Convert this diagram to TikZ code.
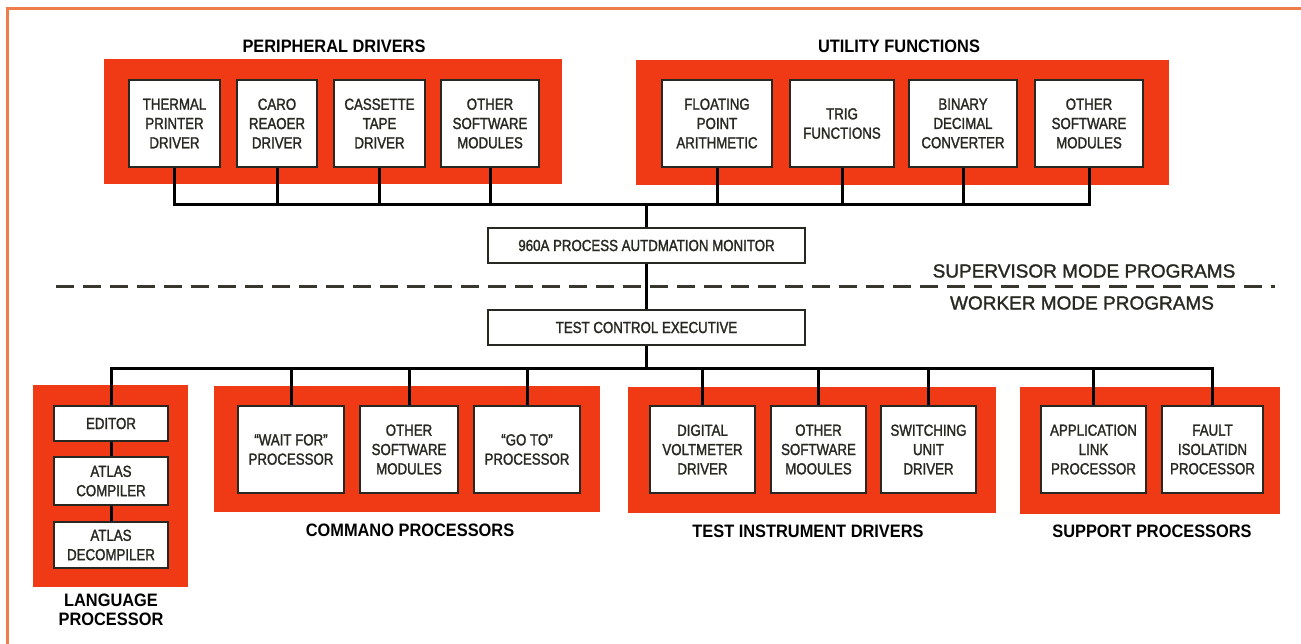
\documentclass[tikz,border=0pt]{standalone}
\usepackage{fontspec}
\setmainfont{Liberation Sans}[FakeStretch=0.83,FakeBold=1.6]
\newfontfamily\titlefont{Liberation Sans}[FakeStretch=0.91]
\newfontfamily\modefont{Liberation Sans}[FakeBold=1.4]

\definecolor{redfill}{RGB}{240,58,22}
\definecolor{frameorange}{RGB}{238,125,75}
\definecolor{ink}{RGB}{40,40,35}
\definecolor{dashink}{RGB}{55,55,45}

\tikzset{
 redbox/.style={fill=redfill, draw=none, inner sep=0pt},
 inbox/.style={draw=ink, line width=2pt, fill=white, align=center,
   font=\fontsize{16}{19.3}\selectfont, text=ink, inner sep=0pt},
 grouptitle/.style={font=\titlefont\bfseries\fontsize{18}{19.5}\selectfont, text=black, align=center},
 modetitle/.style={font=\modefont\fontsize{19}{22}\selectfont, text=ink},
 wire/.style={draw=black, line width=3pt, line join=miter},
 divider/.style={draw=dashink, line width=3pt, dash pattern=on 18pt off 9pt},
}

\begin{document}
\begin{tikzpicture}[x=1pt,y=-1pt]
\useasboundingbox[fill=white] (0,0) rectangle (1301,644);
\draw[frameorange, line width=3pt] (7,644) -- (7,9) -- (1301,9);

% group backgrounds
\node[redbox, minimum width=458pt, minimum height=125pt] (pdgroup) at (333,121.5) {};
\node[redbox, minimum width=533pt, minimum height=125pt] (ufgroup) at (902.5,122.5) {};
\node[redbox, minimum width=155pt, minimum height=202pt] (lpgroup) at (110.5,486) {};
\node[redbox, minimum width=386pt, minimum height=126pt] (cpgroup) at (407,449) {};
\node[redbox, minimum width=368pt, minimum height=126pt] (tigroup) at (812,450) {};
\node[redbox, minimum width=260pt, minimum height=127pt] (spgroup) at (1150,450.5) {};

% titles
\node[grouptitle] (pdtitle) at (334,46) {PERIPHERAL DRIVERS};
\node[grouptitle] (uftitle) at (899,46) {UTILITY FUNCTIONS};
\node[grouptitle] (cptitle) at (410,530) {COMMANO PROCESSORS};
\node[grouptitle] (tititle) at (808,531) {TEST INSTRUMENT DRIVERS};
\node[grouptitle] (sptitle) at (1152,531) {SUPPORT PROCESSORS};
\node[grouptitle] (lptitle) at (111,610) {LANGUAGE\\PROCESSOR};
\node[modetitle] (supmode) at (1084,271) {SUPERVISOR MODE PROGRAMS};
\node[modetitle] (wrkmode) at (1082,303) {WORKER MODE PROGRAMS};

% top modules
\node[inbox, minimum width=91pt, minimum height=87pt] (thermal) at (174.5,123.5) {THERMAL\\PRINTER\\DRIVER};
\node[inbox, minimum width=80pt, minimum height=87pt] (card) at (277,123.5) {CARO\\REAOER\\DRIVER};
\node[inbox, minimum width=91pt, minimum height=87pt] (cassette) at (379.5,123.5) {CASSETTE\\TAPE\\DRIVER};
\node[inbox, minimum width=98pt, minimum height=87pt] (otherA) at (490,123.5) {OTHER\\SOFTWARE\\MODULES};
\node[inbox, minimum width=110pt, minimum height=87pt] (floating) at (717,123.5) {FLOATING\\POINT\\ARITHMETIC};
\node[inbox, minimum width=104pt, minimum height=87pt] (trig) at (842,123.5) {TRIG\\FUNCTIONS};
\node[inbox, minimum width=108pt, minimum height=87pt] (binary) at (963,123.5) {BINARY\\DECIMAL\\CONVERTER};
\node[inbox, minimum width=108pt, minimum height=87pt] (otherB) at (1089,123.5) {OTHER\\SOFTWARE\\MODULES};

% monitor and executive
\node[inbox, minimum width=317pt, minimum height=35pt] (monitor) at (646.5,245.5) {960A PROCESS AUTDMATION MONITOR};
\node[inbox, minimum width=317pt, minimum height=35pt] (tce) at (646.5,327.5) {TEST CONTROL EXECUTIVE};

% language processor
\node[inbox, minimum width=114pt, minimum height=35pt] (editor) at (111,423.5) {EDITOR};
\node[inbox, minimum width=114pt, minimum height=48pt] (compiler) at (111,481) {ATLAS\\COMPILER};
\node[inbox, minimum width=114pt, minimum height=46pt] (decompiler) at (111,545) {ATLAS\\DECOMPILER};

% bottom modules
\node[inbox, minimum width=106pt, minimum height=87pt] (wait) at (291,449.5) {``WAIT FOR''\\PROCESSOR};
\node[inbox, minimum width=98pt, minimum height=87pt] (otherC) at (409,449.5) {OTHER\\SOFTWARE\\MODULES};
\node[inbox, minimum width=106pt, minimum height=87pt] (goto) at (527,449.5) {``GO TO''\\PROCESSOR};
\node[inbox, minimum width=105pt, minimum height=87pt] (digital) at (702.5,449.5) {DIGITAL\\VOLTMETER\\DRIVER};
\node[inbox, minimum width=95pt, minimum height=87pt] (otherD) at (818.5,449.5) {OTHER\\SOFTWARE\\MOOULES};
\node[inbox, minimum width=95pt, minimum height=87pt] (switching) at (928.5,449.5) {SWITCHING\\UNIT\\DRIVER};
\node[inbox, minimum width=105pt, minimum height=87pt] (app) at (1093.5,449.5) {APPLICATION\\LINK\\PROCESSOR};
\node[inbox, minimum width=101pt, minimum height=87pt] (fault) at (1212.5,449.5) {FAULT\\ISOLATIDN\\PROCESSOR};

% divider
\coordinate (dashL) at (56,287);
\coordinate (dashR) at (1275,287);
\draw[divider] (dashL) -- (dashR);

% connectors
\coordinate (busT) at (646.5,205);
\coordinate (busB) at (646.5,368);
\foreach \n in {thermal,card,cassette,otherA,floating,trig,binary,otherB}
  \draw[wire] (\n.south) |- (busT);
\draw[wire] (busT) -- (monitor.north);
\draw[wire] (monitor.south) -- (tce.north);
\draw[wire] (tce.south) -- (busB);
\foreach \n in {editor,wait,otherC,goto,digital,otherD,switching,app,fault}
  \draw[wire] (busB) -| (\n.north);
\draw[wire] (editor.south) -- (compiler.north);
\draw[wire] (compiler.south) -- (decompiler.north);
\end{tikzpicture}
\end{document}
